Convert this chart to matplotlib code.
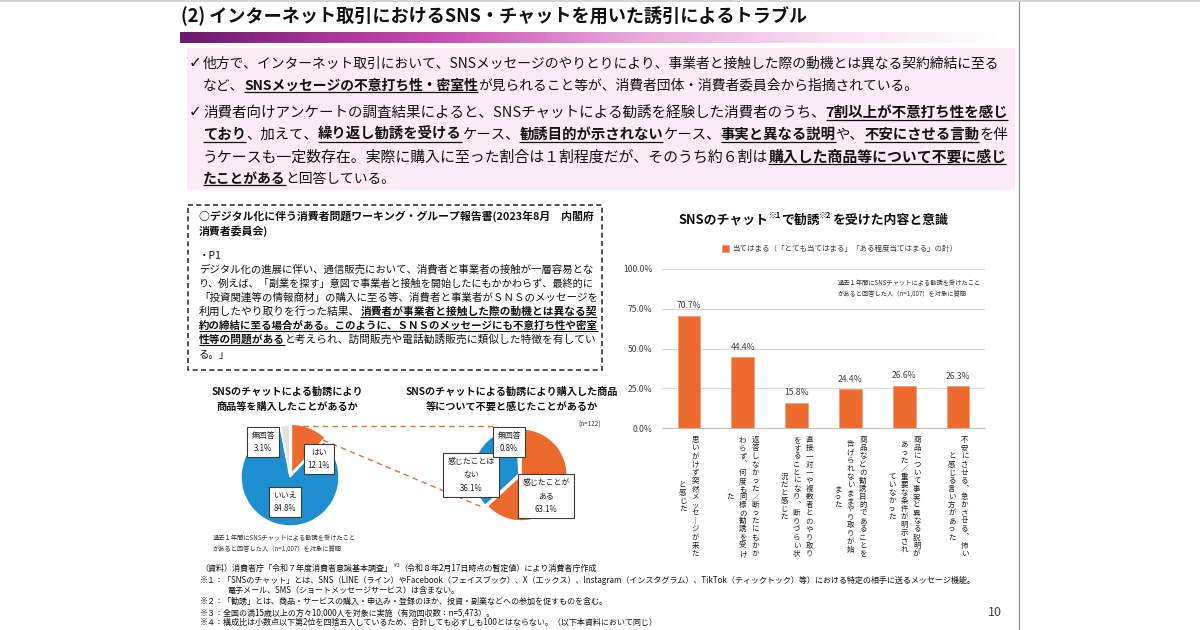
import matplotlib
matplotlib.use("Agg")
import matplotlib.pyplot as plt
import numpy as np
from matplotlib.colors import LinearSegmentedColormap
from matplotlib.patches import Rectangle
from matplotlib.transforms import offset_copy

plt.rcParams["font.family"] = ["Noto Sans CJK JP", "DejaVu Sans"]

W, H = 1200, 630

# bar chart: SNSのチャットで勧誘を受けた内容と意識
bar_values = [70.7, 44.4, 15.8, 24.4, 26.6, 26.3]
bar_labels = [
    ["思いがけず突然メッセージが来た", "と感じた"],
    ["返答しなかった／断ったにもかか", "わらず、何度も同様の勧誘を受け", "た"],
    ["直接一対一や複数者とのやり取り", "をすることになり、断りづらい状", "況だと感じた"],
    ["商品などの勧誘目的であることを", "告げられないままやり取りが始", "まった"],
    ["商品について事実と異なる説明が", "あった／重要な条件が明示され", "ていなかった"],
    ["不安にさせる、急かさせる、怖い", "と感じる言い方があった"],
]
bar_ticks = [0, 25, 50, 75, 100]
bar_legend = "当てはまる（「とても当てはまる」「ある程度当てはまる」の計）"

# pies
pie1_labels = ["はい", "いいえ", "無回答"]
pie1_values = [12.1, 84.8, 3.1]
pie2_labels = ["感じたことが\nある", "感じたことは\nない", "無回答"]
pie2_values = [63.1, 36.1, 0.8]

ORANGE = "#EC6A2E"
BLUE = "#1D8FD1"
GRAY = "#E3E3E3"
INK = "#111111"

fig = plt.figure(figsize=(12, 6.3), dpi=100)
R = fig.canvas.get_renderer()

# background layer in pixel coords (y down)
bg = fig.add_axes([0, 0, 1, 1])
bg.axis("off")
cmap = LinearSegmentedColormap.from_list(
    "band", [(0, "#6a1b6a"), (0.18, "#a8349a"), (0.3, "#c548b0"),
             (0.55, "#e9a6da"), (0.8, "#f8e2f3"), (1, "#ffffff")])
bg.imshow(np.linspace(0, 1, 256)[None, :], cmap=cmap, extent=[180, 1002, 43, 32],
          aspect="auto")
bg.add_patch(Rectangle((187, 48), 828, 142, fc="#faebf6", ec="none"))
bg.add_patch(Rectangle((188, 205), 414, 165, fill=False, ec="#333333", lw=1.2,
                       ls=(0, (3, 2))))
bg.plot([1019, 1019], [0, H], color="#8a8a8a", lw=0.8)
bg.plot([0, W], [0.8, 0.8], color="#d5d5d5", lw=1.5)
bg.set_xlim(0, W)
bg.set_ylim(H, 0)

# overlay for text
ov = fig.add_axes([0, 0, 1, 1])
ov.axis("off")
ov.set_zorder(10)
ov.set_xlim(0, W)
ov.set_ylim(H, 0)
ov.set_autoscale_on(False)


def adv(s, fs, fw):
    t = ov.text(0, 0, "|" + s + "|", fontsize=fs, fontweight=fw)
    w1 = t.get_window_extent(R).width
    t.set_text("||")
    w0 = t.get_window_extent(R).width
    t.remove()
    return w1 - w0


def rich(x, yc, segs, size, width=None, align="left", color=INK, ul=0.9):
    # segs: (text, style)  b=bold u=underline s=superscript
    def measure(fs):
        return [adv(s, fs * (0.6 if "s" in st else 1), "bold" if "b" in st else "normal")
                for s, st in segs]
    ws = measure(size)
    if width:
        size *= width / sum(ws)
        ws = measure(size)
    em = size * 100 / 72
    base = yc + 0.36 * em
    cx = x - sum(ws) / 2 if align == "center" else x
    for (s, st), w in zip(segs, ws):
        sup = "s" in st
        ov.text(cx, base - (0.45 * em if sup else 0), s, fontsize=size * (0.6 if sup else 1),
                fontweight="bold" if "b" in st else "normal", ha="left", va="baseline",
                color=color)
        if "u" in st:
            ov.plot([cx, cx + w], [base + 0.17 * em] * 2, color=color, lw=ul,
                    solid_capstyle="butt")
        cx += w
    return size


# title
rich(181, 16, [("(2) インターネット取引におけるSNS・チャットを用いた誘引によるトラブル", "b")],
     13, width=625)

# bullets
for yc in (63, 112):
    ov.text(189, yc, "✓", fontsize=11, va="center", ha="left", color=INK,
            family=["DejaVu Sans"])
X0, XW = 203, 803
fs = rich(X0, 63, [("他方で、インターネット取引において、SNSメッセージのやりとりにより、事業者と接触した際の動機とは異なる契約締結に至る", "")], 9.5, width=XW)
rich(X0, 85, [("など、", ""), ("SNSメッセージの不意打ち性・密室性", "bu"),
              ("が見られること等が、消費者団体・消費者委員会から指摘されている。", "")], fs)
rich(X0, 112, [("消費者向けアンケートの調査結果によると、SNSチャットによる勧誘を経験した消費者のうち、", ""),
               ("7割以上が不意打ち性を感じ", "bu")], fs, width=XW)
rich(X0, 134, [("ており", "bu"), ("、加えて、", ""), ("繰り返し勧誘を受ける", "bu"), ("ケース、", ""),
               ("勧誘目的が示されない", "bu"), ("ケース、", ""), ("事実と異なる説明", "bu"),
               ("や、", ""), ("不安にさせる言動", "bu"), ("を伴", "")], fs, width=XW)
rich(X0, 156, [("うケースも一定数存在。実際に購入に至った割合は１割程度だが、そのうち約６割は", ""),
               ("購入した商品等について不要に感じ", "bu")], fs, width=XW)
rich(X0, 178, [("たことがある", "bu"), ("と回答している。", "")], fs)

# dashed box text
D0, DW = 199, 395
bs = rich(D0, 216, [("○デジタル化に伴う消費者問題ワーキング・グループ報告書(2023年8月　内閣府", "b")], 7.5, width=DW)
rich(D0, 231, [("消費者委員会)", "b")], bs)
ns = rich(D0, 269, [("デジタル化の進展に伴い、通信販売において、消費者と事業者の接触が一層容易とな", "")], 7.5, width=DW)
rich(D0, 255, [("・P1", "")], ns)
rich(D0, 283, [("り、例えば、「副業を探す」意図で事業者と接触を開始したにもかかわらず、最終的に", "")], ns, width=DW)
rich(D0, 297, [("「投資関連等の情報商材」の購入に至る等、消費者と事業者がＳＮＳのメッセージを", "")], ns, width=DW)
rich(D0, 311, [("利用したやり取りを行った結果、", ""), ("消費者が事業者と接触した際の動機とは異なる契", "bu")], ns, width=DW, ul=0.8)
rich(D0, 325, [("約の締結に至る場合がある。このように、ＳＮＳのメッセージにも不意打ち性や密室", "bu")], ns, width=DW, ul=0.8)
rich(D0, 339, [("性等の問題がある", "bu"), ("と考えられ、訪問販売や電話勧誘販売に類似した特徴を有してい", "")], ns, width=DW, ul=0.8)
rich(D0, 354, [("る。」", "")], ns)

# pies
def pie_ax(cx, cy, r):
    s = 2.6 * r
    return fig.add_axes([(cx - s / 2) / W, (H - cy - s / 2) / H, s / W, s / H])


ax1 = pie_ax(290, 477, 49)
ax1.pie(pie1_values, colors=[ORANGE, BLUE, GRAY], startangle=90, counterclock=False,
        explode=[0.08, 0, 0.06], wedgeprops=dict(edgecolor="white", linewidth=1.0))
ax1.set_xlim(-1.3, 1.3)
ax1.set_ylim(-1.3, 1.3)

ax2 = pie_ax(519, 474, 46)
ax2.pie(pie2_values, colors=[ORANGE, BLUE, GRAY], startangle=90, counterclock=False,
        explode=[0.05, 0, 0], wedgeprops=dict(edgecolor="white", linewidth=1.0))
ax2.set_xlim(-1.3, 1.3)
ax2.set_ylim(-1.3, 1.3)

box = dict(boxstyle="square,pad=0.5", fc="white", ec="#3a3a3a", lw=0.8)
pie1_box_xy = [(319, 459), (285, 502), (263, 442)]
pie2_box_xy = [(546, 496), (471, 475), (509, 442)]
for labs, vals, xy in ((pie1_labels, pie1_values, pie1_box_xy),
                       (pie2_labels, pie2_values, pie2_box_xy)):
    for lab, v, (bx, by) in zip(labs, vals, xy):
        ov.text(bx, by, f"{lab}\n{v:.1f}%", ha="center", va="center", fontsize=5.7,
                linespacing=1.6, color="#222222", bbox=box)

ov.plot([293, 495], [426, 426], color=ORANGE, lw=1, ls=(0, (4, 3)))
ov.plot([323, 482], [440, 507], color=ORANGE, lw=1, ls=(0, (4, 3)))

for cx, txts in ((287, ["SNSのチャットによる勧誘により", "商品等を購入したことがあるか"]),
                 (512, ["SNSのチャットによる勧誘により購入した商品", "等について不要と感じたことがあるか"])):
    for yy, t in zip((392, 407), txts):
        ov.text(cx, yy, t, ha="center", va="center", fontsize=7.3, fontweight="bold", color=INK)

ov.text(578, 425, "(n=122)", fontsize=4.6, va="center", color="#333333")
ov.text(213, 543, "過去１年間にSNSチャットによる勧誘を受けたこと\nがあると回答した人（n=1,007）を対象に質問",
        fontsize=4.5, va="center", linespacing=1.4, color="#333333")

# bar chart
axb = fig.add_axes([662 / W, (H - 428) / H, 323 / W, 159 / H])
x = np.arange(len(bar_values))
bars = axb.bar(x, bar_values, width=0.42, color=ORANGE, edgecolor="#F39B72",
               linewidth=0.6, zorder=3, label=bar_legend)
axb.set_xlim(-0.5, len(bar_values) - 0.5)
axb.set_ylim(0, 100)
axb.set_yticks(bar_ticks)
axb.set_yticklabels([f"{t:.1f}%" for t in bar_ticks], fontsize=6.2, color="#404040")
axb.set_xticks([])
axb.yaxis.grid(True, color="#d9d9d9", lw=0.8)
axb.set_axisbelow(True)
axb.tick_params(length=0, pad=7)
for s in ("top", "right", "left"):
    axb.spines[s].set_visible(False)
axb.spines["bottom"].set_color("#bfbfbf")
axb.bar_label(bars, labels=[f"{v:.1f}%" for v in bar_values], padding=4, fontsize=6.2,
              color="#404040")
axb.legend(loc="center left", bbox_to_anchor=(722 / W, 1 - 249 / H),
           bbox_transform=fig.transFigure, frameon=False, fontsize=5.4,
           handlelength=0.9, handleheight=0.9, handletextpad=0.4, borderpad=0,
           borderaxespad=0, labelcolor="#404040")

# vertical (tategaki) category labels
vert = {"、": "︑", "ー": "︱", "。": "︒"}
base_tr = axb.get_xaxis_transform()
yc_ax = -(497 - 428) / 159
col_gap, char_step = 12.5, 8.1
for i, cols in enumerate(bar_labels):
    n = len(cols)
    for j, col in enumerate(cols):
        dx = ((n - 1) / 2 - j) * col_gap
        m = len(col)
        for k, ch in enumerate(col):
            dy = ((m - 1) / 2 - k) * char_step
            tr = offset_copy(base_tr, fig=fig, x=dx * 0.72, y=dy * 0.72, units="points")
            axb.text(x[i], yc_ax, vert.get(ch, ch), transform=tr, ha="center", va="center",
                     fontsize=5.4, color="#222222", clip_on=False)

rich(813, 219, [("SNSのチャット", "b"), ("※1", "bs"), ("で勧誘", "b"), ("※2", "bs"),
                ("を受けた内容と意識", "b")], 9, width=270, align="center")
ov.text(838, 288, "過去１年間にSNSチャットによる勧誘を受けたこと\nがあると回答した人（n=1,007）を対象に質問",
        fontsize=4.5, va="center", linespacing=1.4, color="#333333")

# footnotes
FS = 5.8
rich(200, 568, [("（資料）消費者庁「令和７年度消費者意識基本調査」", ""), ("※3", "s"),
                ("（令和８年2月17日時点の暫定値）により消費者庁作成", "")], FS)
rich(200, 580, [("※１：「SNSのチャット」とは、SNS（LINE（ライン）やFacebook（フェイスブック）、X（エックス）、Instagram（インスタグラム）、TikTok（ティックトック）等）における特定の相手に送るメッセージ機能。", "")], FS)
rich(227, 590, [("電子メール、SMS（ショートメッセージサービス）は含まない。", "")], FS)
rich(200, 601, [("※２：「勧誘」とは、商品・サービスの購入・申込み・登録のほか、投資・副業などへの参加を促すものを含む。", "")], FS)
rich(200, 612, [("※３：全国の満15歳以上の方々10,000人を対象に実施（有効回収数：n=5,473）。", "")], FS)
rich(200, 622, [("※４：構成比は小数点以下第2位を四捨五入しているため、合計しても必ずしも100とはならない。（以下本資料において同じ）", "")], FS)

ov.text(1002, 612, "10", ha="right", va="center", fontsize=9, color="#404040")

fig.savefig("out.png", dpi=100)
